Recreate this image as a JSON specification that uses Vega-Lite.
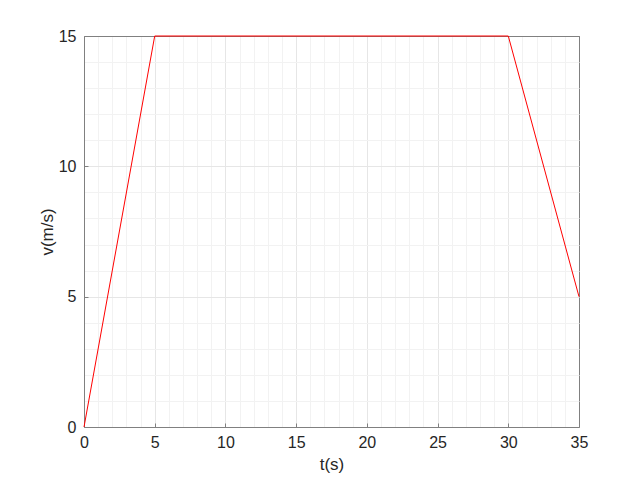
{
  "$schema": "https://vega.github.io/schema/vega-lite/v6.json",
  "width": 495,
  "height": 391,
  "autosize": {"type": "none"},
  "padding": {"left": 84, "top": 36, "right": 61, "bottom": 53},
  "background": "white",
  "config": {
    "view": {"stroke": "#808080", "strokeWidth": 1},
    "font": "Liberation Sans"
  },
  "data": {"values": [
    {"t": 0, "v": 0},
    {"t": 5, "v": 15},
    {"t": 30, "v": 15},
    {"t": 35, "v": 5}
  ]},
  "mark": {"type": "line", "color": "#ff0000", "strokeWidth": 1},
  "encoding": {
    "x": {
      "field": "t", "type": "quantitative",
      "scale": {"domain": [0, 35], "nice": false},
      "axis": {
        "title": "t(s)", "titleFontSize": 17, "titleFontWeight": "normal", "titleColor": "#262626", "titlePadding": 6,
        "values": [0,1,2,3,4,5,6,7,8,9,10,11,12,13,14,15,16,17,18,19,20,21,22,23,24,25,26,27,28,29,30,31,32,33,34,35],
        "labelExpr": "datum.value % 5 === 0 ? datum.label : ''",
        "labelFontSize": 16, "labelColor": "#262626", "labelPadding": 11, "labelFlush": false,
        "domainColor": "#808080",
        "tickColor": "#808080", "tickSize": -4,
        "tickOpacity": {"condition": {"test": "datum.value % 5 === 0", "value": 1}, "value": 0},
        "grid": true,
        "gridColor": {"condition": [{"test": "datum.value === 35", "value": "#808080"}, {"test": "datum.value % 5 === 0", "value": "#e6e6e6"}], "value": "#f2f2f2"},
        "gridWidth": 1
      }
    },
    "y": {
      "field": "v", "type": "quantitative",
      "scale": {"domain": [0, 15], "nice": false},
      "axis": {
        "title": "v(m/s)", "titleFontSize": 17, "titleFontWeight": "normal", "titleColor": "#262626", "titlePadding": 2,
        "values": [0,1,2,3,4,5,6,7,8,9,10,11,12,13,14,15],
        "labelExpr": "datum.value % 5 === 0 ? datum.label : ''",
        "labelFontSize": 16, "labelColor": "#262626", "labelPadding": 12, "labelFlush": false,
        "domainColor": "#808080",
        "tickColor": "#808080", "tickSize": -4,
        "tickOpacity": {"condition": {"test": "datum.value % 5 === 0", "value": 1}, "value": 0},
        "grid": true,
        "gridColor": {"condition": [{"test": "datum.value === 15", "value": "#808080"}, {"test": "datum.value % 5 === 0", "value": "#e6e6e6"}], "value": "#f2f2f2"},
        "gridWidth": 1
      }
    }
  }
}
